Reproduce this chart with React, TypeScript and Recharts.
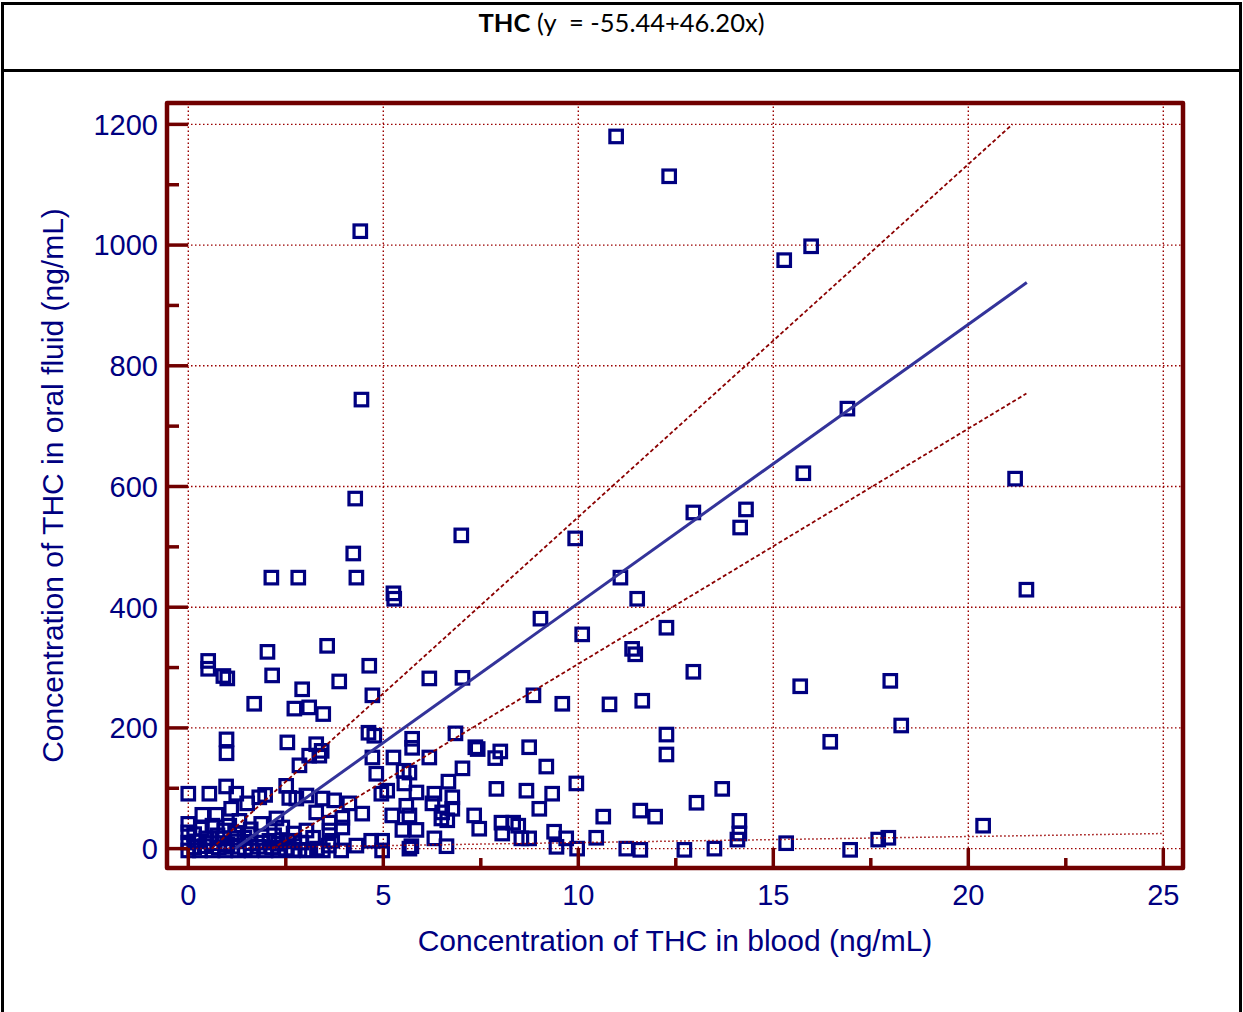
import React from 'react';
import { ScatterChart, Scatter, XAxis, YAxis, ReferenceLine, ReferenceArea } from 'recharts';

// ---- axes ----
const xTicks = [0, 2.5, 5, 7.5, 10, 12.5, 15, 17.5, 20, 22.5, 25];
const xLabelTicks = [0, 5, 10, 15, 20, 25];
const yTicks = [0, 100, 200, 300, 400, 500, 600, 700, 800, 900, 1000, 1100, 1200];
const yLabelTicks = [0, 200, 400, 600, 800, 1000, 1200];
const xDomain: [number, number] = [-0.546, 25.505];
const yDomain: [number, number] = [-32.1, 1235.4];

// ---- observations [blood THC, oral fluid THC] ----
const highReadings: [number, number][] = [
  [10.97, 1180], [12.33, 1114], [4.41, 1023], [15.28, 975], [15.97, 998], [4.44, 744], [16.9, 729],
  [21.2, 613], [15.77, 622], [4.28, 580], [7.0, 519], [9.92, 514], [12.95, 557], [14.3, 562],
  [14.15, 532], [4.23, 489], [2.13, 449], [2.82, 449], [4.31, 449], [5.26, 423], [5.28, 414],
  [11.08, 449], [11.51, 414], [21.49, 429],
];

const midReadings: [number, number][] = [
  [9.03, 381], [12.26, 366], [10.1, 355], [11.38, 331], [11.46, 322], [3.56, 336], [0.51, 311],
  [0.51, 298], [2.03, 326], [4.64, 303], [0.9, 286], [1.0, 282], [2.15, 287], [2.92, 264],
  [3.87, 277], [6.18, 282], [7.03, 283], [12.95, 293], [18.0, 278], [15.69, 269], [4.72, 254],
  [8.85, 254], [11.64, 245], [9.59, 240], [10.8, 239], [1.69, 240], [2.72, 232], [3.1, 234],
  [3.46, 223], [18.28, 204],
];

const lowMidReadings: [number, number][] = [
  [4.62, 192], [4.77, 187], [6.85, 191], [12.26, 189], [0.98, 181], [0.98, 158], [2.54, 176],
  [3.28, 173], [3.42, 162], [5.74, 182], [5.74, 167], [7.36, 168], [7.42, 165], [8.0, 161],
  [7.87, 150], [8.74, 168], [16.46, 177], [12.26, 156], [3.1, 154], [3.36, 154], [2.85, 138],
  [4.72, 151], [5.26, 151], [6.18, 151], [9.18, 136], [7.03, 133], [5.52, 129], [5.67, 126],
  [4.82, 124], [6.67, 111], [9.95, 108], [2.51, 104], [0.97, 103], [5.54, 108], [13.69, 99],
];

const lowReadings: [number, number][] = [
  [0, 91], [0.54, 91], [1.23, 91], [1.97, 89], [1.82, 85], [2.59, 84], [1.51, 75], [1.1, 66],
  [0.36, 56], [0.72, 56], [1.31, 46], [2.26, 50], [0, 41], [0, 27], [0.62, 38], [0.92, 30],
  [1.87, 41], [2.41, 35], [0.46, 17], [0.87, 17], [1.44, 18], [2.08, 13], [0, 10],
  [2.77, 83], [3.03, 88], [3.44, 83], [3.74, 80], [4.13, 75], [4.95, 91], [5.1, 96], [5.59, 71],
  [3.28, 60], [3.62, 43], [3.95, 51], [4.46, 58], [5.23, 55], [5.67, 55], [3.95, 35], [3.03, 30],
  [3.62, 30], [5.49, 31], [5.85, 31], [2.72, 13], [2.9, 10], [3.69, 13], [4.31, 5], [4.69, 13],
  [4.97, 13], [3.92, -3], [4.97, -3], [5.67, 0],
  [6.31, 91], [6.77, 85], [6.26, 75], [6.51, 60], [6.77, 66], [6.49, 50], [6.64, 47], [7.9, 99],
  [8.67, 96], [9.33, 91], [9.0, 66], [7.33, 55], [7.46, 33], [8.03, 43], [8.33, 43], [8.05, 25],
  [8.46, 38], [8.54, 17], [8.74, 17], [9.38, 28], [9.69, 17], [9.44, 3], [9.97, 0], [6.31, 17],
  [6.62, 4], [5.72, 4], [5.85, 93],
  [13.03, 76], [10.64, 53], [11.59, 63], [11.97, 53], [14.13, 46], [14.13, 25], [14.08, 15],
  [20.38, 38], [17.69, 15], [17.95, 18], [15.33, 9], [16.97, -2], [11.23, 0], [11.59, -2],
  [12.72, -2], [13.49, 0], [10.46, 18],
];

const nearZeroReadings: [number, number][] = [
  [0, -3], [0.15, 2], [0.3, -3], [0.42, 4], [0.62, -3], [0.78, 2], [0.95, -3], [1.12, 3],
  [1.28, -3], [1.45, 1], [1.62, -3], [1.8, 3], [1.98, -3], [2.15, 2], [2.32, -3], [2.5, 0],
  [2.68, -3], [2.85, -2], [3.05, -3], [3.3, 0], [0.22, 12], [0.6, 9], [1.0, 7], [1.25, 12],
  [1.6, 9], [1.9, 10], [2.3, 8], [2.55, 12], [0.15, 24], [0.75, 22], [1.2, 26], [1.55, 24],
  [2.2, 22], [1.05, 38], [1.6, 32], [0.35, 33], [2.7, 25], [3.2, 18], [3.45, -3], [3.6, 5],
];

// ---- fitted lines (end points) ----
const regressionLine = [{ x: 1.2, y: 0 }, { x: 21.5, y: 938 }];
const upperLimitLine = [{ x: 0.6, y: 0 }, { x: 21.13, y: 1200 }];
const lowerLimitLine = [{ x: 2.15, y: 0 }, { x: 21.49, y: 754 }];
const identityLine = [{ x: 0, y: 0 }, { x: 25, y: 25 }];

const observations = [...highReadings, ...midReadings, ...lowMidReadings, ...lowReadings, ...nearZeroReadings].map(
  ([x, y]) => ({ x, y })
);

const FRAME = '#700000';
const GRID = '#9a0000';
const NAVY = '#000080';
const AXIS_FONT = '"Liberation Sans", Arial, sans-serif';
const X_MARGIN = 16;
const Y_MARGIN = 9;

const XTick = (props: any) => {
  const { x, y, payload } = props;
  const major = xLabelTicks.includes(payload.value);
  const axisY = y - X_MARGIN;
  return (
    <g>
      <line x1={x} x2={x} y1={axisY} y2={axisY - (major ? 20 : 10)} stroke={FRAME} strokeWidth={3.5} />
      {major && (
        <text x={x} y={y} dy="0.71em" textAnchor="middle" fill={NAVY} fontSize={29} fontFamily={AXIS_FONT}>
          {payload.value}
        </text>
      )}
    </g>
  );
};

const YTick = (props: any) => {
  const { x, y, payload } = props;
  const major = yLabelTicks.includes(payload.value);
  const axisX = x + Y_MARGIN;
  return (
    <g>
      <line x1={axisX} x2={axisX + (major ? 21 : 12)} y1={y} y2={y} stroke={FRAME} strokeWidth={3.5} />
      {major && (
        <text x={x} y={y} dy="0.355em" textAnchor="end" fill={NAVY} fontSize={29} fontFamily={AXIS_FONT}>
          {payload.value}
        </text>
      )}
    </g>
  );
};

const Square = (props: any) => {
  const { cx, cy } = props;
  if (cx == null || cy == null) return <g />;
  return <rect x={cx - 6.25} y={cy - 6.25} width={12.5} height={12.5} fill="none" stroke={NAVY} strokeWidth={3.2} />;
};

const NoShape = () => <g />;

export default function App() {
  return (
    <div style={{ position: 'absolute', left: 0, top: 0, width: 1243, height: 1012, overflow: 'hidden', background: '#fff' }}>
      <div
        style={{
          position: 'absolute', left: 1, top: 2, width: 1241, height: 1040,
          border: '3px solid #000', boxSizing: 'border-box',
        }}
      />
      <div style={{ position: 'absolute', left: 1, top: 69, width: 1241, height: 3, background: '#000' }} />
      <div
        style={{
          position: 'absolute', left: 0, top: 5, width: 1243, textAlign: 'center', whiteSpace: 'pre',
          fontFamily: 'Lato, "Noto Sans", sans-serif', fontSize: 25.5, color: '#000', lineHeight: '34px',
        }}
      >
        <b>THC</b>{' (y  = -55.44+46.20x)'}
      </div>
      <div style={{ position: 'absolute', left: 0, top: 0 }}>
        <ScatterChart width={1243} height={1012} margin={{ top: 103, right: 60, bottom: 0, left: 0 }}>
          <XAxis
            type="number"
            dataKey="x"
            domain={xDomain}
            allowDataOverflow
            ticks={xTicks}
            interval={0}
            tickSize={0}
            tickMargin={X_MARGIN}
            tickLine={false}
            axisLine={false}
            height={144}
            tick={XTick}
            label={{
              value: 'Concentration of THC in blood (ng/mL)', position: 'insideBottom', offset: 61,
              fill: NAVY, fontSize: 30, fontFamily: AXIS_FONT,
            }}
          />
          <YAxis
            type="number"
            dataKey="y"
            domain={yDomain}
            allowDataOverflow
            ticks={yTicks}
            interval={0}
            tickSize={0}
            tickMargin={Y_MARGIN}
            tickLine={false}
            axisLine={false}
            width={167}
            tick={YTick}
            label={{
              value: 'Concentration of THC in oral fluid (ng/mL)', position: 'insideLeft', offset: 52, angle: -90,
              fill: NAVY, fontSize: 30, fontFamily: AXIS_FONT, style: { textAnchor: 'middle' },
            }}
          />
          {yLabelTicks.map((v) => (
            <ReferenceLine key={'gy' + v} y={v} stroke={GRID} strokeWidth={1.4} strokeDasharray="1.5 2.5" />
          ))}
          {xLabelTicks.map((v) => (
            <ReferenceLine key={'gx' + v} x={v} stroke={GRID} strokeWidth={1.4} strokeDasharray="1.5 2.5" />
          ))}
          <Scatter data={observations} shape={Square} isAnimationActive={false} />
          <Scatter data={identityLine} line={{ stroke: GRID, strokeWidth: 1.5, strokeDasharray: '1.5 2.5' }} shape={NoShape} isAnimationActive={false} />
          <Scatter data={upperLimitLine} line={{ stroke: '#8b0000', strokeWidth: 1.8, strokeDasharray: '4 2.5' }} shape={NoShape} isAnimationActive={false} />
          <Scatter data={lowerLimitLine} line={{ stroke: '#8b0000', strokeWidth: 1.8, strokeDasharray: '4 2.5' }} shape={NoShape} isAnimationActive={false} />
          <Scatter data={regressionLine} line={{ stroke: '#33339a', strokeWidth: 3 }} shape={NoShape} isAnimationActive={false} />
          <ReferenceArea
            x1={xDomain[0]} x2={xDomain[1]} y1={yDomain[0]} y2={yDomain[1]}
            fill="none" fillOpacity={0} stroke={FRAME} strokeWidth={4.5} strokeLinejoin="round" ifOverflow="visible"
          />
        </ScatterChart>
      </div>
    </div>
  );
}
